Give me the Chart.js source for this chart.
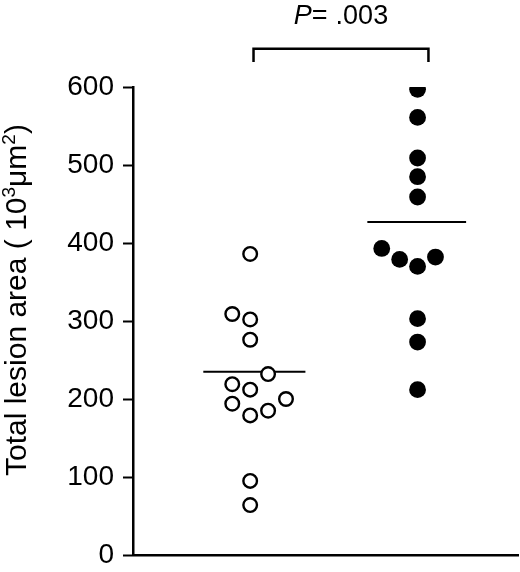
<!DOCTYPE html>
<html lang="en">
  <head>
    <meta charset="UTF-8" />
    <script src="https://cdn.jsdelivr.net/npm/chart.js"></script>
    <style>
      body { margin: 0; background: #fff; }
      .wrap { width: 520px; height: 572px; position: relative; }
    </style>
  </head>
  <body>
    <div class="wrap"><canvas id="lesionChart"></canvas></div>

    <script>
      // Data (10^3 um^2)
      const groupIndex = [1, 2];
      const controlArea = [386, 309, 302, 276, 232, 219, 212, 200, 194, 185, 179, 95, 64];
      const controlSlot = [0, -1, 0, 0, 1, -1, 0, 2, -1, 1, 0, 0, 0];
      const treatedArea = [597, 561, 509, 485, 459, 393, 379, 370, 382, 303, 273, 212];
      const treatedSlot = [0, 0, 0, 0, 0, -2, -1, 0, 1, 0, 0, 0];
      const groupLine = [235, 427];
      const yTicks = [0, 100, 200, 300, 400, 500, 600];
      const pValueText = ".003";
      // y title pieces: [text, superscript?]
      const yTitleParts = [
        ["Total lesion area ( 10", false],
        ["3", true],
        ["μm", false],
        ["2", true],
        [")", false],
      ];

      // layout constants
      const slotWidth = 0.107;
      const lineSpan = [[-0.28, 0.33], [-0.3, 0.29]];
      const bracketY = [632, 649];

      function toPoints(idx, area, slot) {
        return area.map((v, i) => ({ x: idx + slot[i] * slotWidth, y: v }));
      }

      const font = "'Liberation Sans', Arial, sans-serif";

      // P value above the bracket + y title with real superscripts
      const labelPlugin = {
        id: "labels",
        afterDraw(chart) {
          const c = chart.ctx;
          const xs = chart.scales.x;
          const mid = (xs.getPixelForValue(groupIndex[0] + 0.02) + xs.getPixelForValue(groupIndex[1] + 0.065)) / 2;
          c.save();
          c.fillStyle = "#000";
          c.textBaseline = "alphabetic";
          c.font = "italic 27px " + font;
          const pw = c.measureText("P").width;
          c.font = "27px " + font;
          const eq = c.measureText("=").width;
          const rw = c.measureText(pValueText).width;
          const gap = 8;
          const x0 = mid - (pw + eq + gap + rw) / 2;
          c.font = "italic 27px " + font;
          c.fillText("P", x0, 24);
          c.font = "27px " + font;
          c.fillText("=", x0 + pw, 24);
          c.fillText(pValueText, x0 + pw + eq + gap, 24);

          // rotated axis title
          c.translate(26, 476);
          c.rotate(-Math.PI / 2);
          let x = 0;
          yTitleParts.forEach(([t, sup]) => {
            c.font = (sup ? "19px " : "30px ") + font;
            c.fillText(t, x, sup ? -11 : 0);
            x += c.measureText(t).width;
          });
          c.restore();
        },
      };

      const ctx = document.getElementById("lesionChart").getContext("2d");
      new Chart(ctx, {
        type: "scatter",
        data: {
          datasets: [
            {
              label: "control",
              data: toPoints(groupIndex[0], controlArea, controlSlot),
              pointRadius: 6.8,
              pointBorderWidth: 2.4,
              pointBackgroundColor: "#fff",
              pointBorderColor: "#000",
            },
            {
              label: "treated",
              data: toPoints(groupIndex[1], treatedArea, treatedSlot),
              pointRadius: 8.4,
              pointBorderWidth: 0,
              pointBackgroundColor: "#000",
              pointBorderColor: "#000",
            },
            ...groupIndex.map((g, i) => ({
              type: "line",
              label: "line" + i,
              data: [
                { x: g + lineSpan[i][0], y: groupLine[i] },
                { x: g + lineSpan[i][1], y: groupLine[i] },
              ],
              borderColor: "#000",
              borderWidth: 2,
              pointRadius: 0,
              order: 5,
            })),
            {
              type: "line",
              label: "bracket",
              data: [
                { x: groupIndex[0] + 0.02, y: bracketY[0] },
                { x: groupIndex[0] + 0.02, y: bracketY[1] },
                { x: groupIndex[1] + 0.065, y: bracketY[1] },
                { x: groupIndex[1] + 0.065, y: bracketY[0] },
              ],
              borderColor: "#000",
              borderWidth: 2.5,
              pointRadius: 0,
              clip: false,
            },
          ],
        },
        options: {
          responsive: true,
          maintainAspectRatio: false,
          animation: false,
          layout: { autoPadding: false, padding: { top: 87, right: 2, left: 0, bottom: 0 } },
          plugins: {
            legend: { display: false },
            tooltip: { enabled: false },
          },
          scales: {
            x: {
              type: "linear",
              min: 0.3,
              max: 2.6,
              ticks: { display: false },
              grid: { display: false, drawTicks: false },
              border: { display: true, color: "#000", width: 2.5 },
              afterFit(s) { s.height = 17; },
            },
            y: {
              min: 0,
              max: 600,
              afterBuildTicks(s) { s.ticks = yTicks.map((v) => ({ value: v })); },
              ticks: {
                color: "#000",
                padding: 9,
                font: { family: font, size: 28 },
              },
              grid: {
                drawOnChartArea: false,
                drawTicks: true,
                tickLength: 10,
                tickWidth: 2,
                tickColor: "#000",
              },
              border: { display: true, color: "#000", width: 2.5 },
              afterFit(s) {
                s.width = 133;
                s.paddingTop = 0;
                s.paddingBottom = 0;
              },
            },
          },
        },
        plugins: [labelPlugin],
      });
    </script>
  </body>
</html>
